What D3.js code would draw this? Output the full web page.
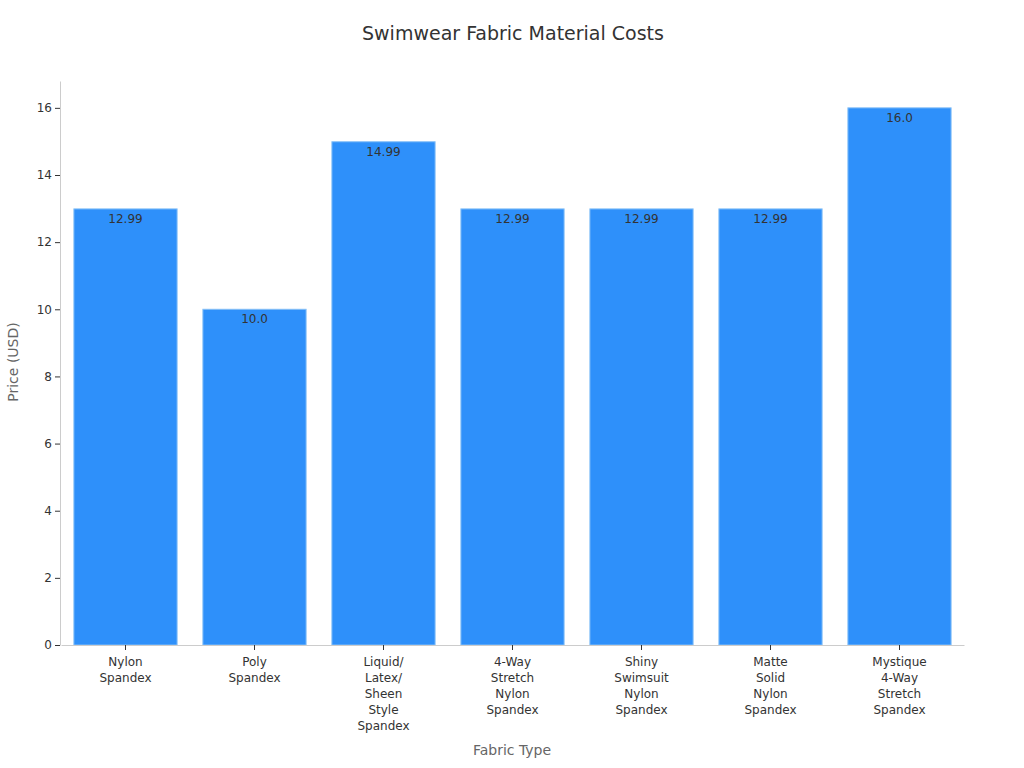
<!DOCTYPE html>
<html>
<head>
<meta charset="utf-8">
<script src="https://cdn.jsdelivr.net/npm/d3@7"></script>
<style>
  body { margin: 0; background: #fff; font-family: "DejaVu Sans", sans-serif; }
</style>
</head>
<body>
<div id="chart"></div>
<script>
const categories = [
  "Nylon Spandex",
  "Poly Spandex",
  "Liquid/ Latex/ Sheen Style Spandex",
  "4-Way Stretch Nylon Spandex",
  "Shiny Swimsuit Nylon Spandex",
  "Matte Solid Nylon Spandex",
  "Mystique 4-Way Stretch Spandex"
];
const prices = [12.99, 10.0, 14.99, 12.99, 12.99, 12.99, 16.0];
const priceLabels = ["12.99", "10.0", "14.99", "12.99", "12.99", "12.99", "16.0"];
const yTicks = [0, 2, 4, 6, 8, 10, 12, 14, 16];

const width = 1024, height = 768;
const margin = { top: 81, right: 61, bottom: 123, left: 60 };

const svg = d3.select("#chart").append("svg")
  .attr("width", width)
  .attr("height", height);

svg.append("text")
  .attr("x", 513).attr("y", 40)
  .attr("text-anchor", "middle")
  .attr("font-size", 19)
  .attr("fill", "#333")
  .text("Swimwear Fabric Material Costs");

const x = d3.scaleBand()
  .domain(categories)
  .range([margin.left + 1, width - margin.right + 1])
  .paddingInner(0.2)
  .paddingOuter(0.1);

const y = d3.scaleLinear()
  .domain([0, 16.8])
  .range([height - margin.bottom, margin.top]);

svg.selectAll("rect.bar")
  .data(prices)
  .enter().append("rect")
  .attr("class", "bar")
  .attr("x", (d, i) => x(categories[i]))
  .attr("y", d => y(d))
  .attr("width", x.bandwidth())
  .attr("height", d => y(0) - y(d))
  .attr("fill", "#2E90FA")
  .attr("stroke", "#84BFF7")
  .attr("stroke-width", 1);

svg.selectAll("text.val")
  .data(prices)
  .enter().append("text")
  .attr("class", "val")
  .attr("x", (d, i) => x(categories[i]) + x.bandwidth() / 2)
  .attr("y", d => y(d) + 14)
  .attr("text-anchor", "middle")
  .attr("font-size", 12)
  .attr("fill", "#333")
  .text((d, i) => priceLabels[i]);

const yAxis = svg.append("g")
  .attr("transform", `translate(${margin.left},0)`)
  .call(d3.axisLeft(y).tickValues(yTicks).tickSize(5).tickSizeOuter(0));
yAxis.select(".domain").attr("stroke", "#ccc");
yAxis.selectAll(".tick line").attr("stroke", "#333");
yAxis.selectAll(".tick text").attr("font-size", 12).attr("fill", "#333")
  .attr("font-family", "DejaVu Sans, sans-serif");

const xAxis = svg.append("g")
  .attr("transform", `translate(0,${height - margin.bottom})`)
  .call(d3.axisBottom(x).tickSize(5).tickSizeOuter(0));
xAxis.select(".domain").attr("stroke", "#ccc");
xAxis.selectAll(".tick line").attr("stroke", "#333");
xAxis.selectAll(".tick text").remove();
xAxis.selectAll(".tick").each(function(d) {
  const t = d3.select(this).append("text")
    .attr("text-anchor", "middle")
    .attr("font-size", 12)
    .attr("fill", "#333")
    .attr("font-family", "DejaVu Sans, sans-serif");
  d.split(" ").forEach((w, i) => {
    t.append("tspan").attr("x", 0).attr("y", 21 + i * 16).text(w);
  });
});

svg.append("text")
  .attr("x", 512)
  .attr("y", 755)
  .attr("text-anchor", "middle")
  .attr("font-size", 14)
  .attr("fill", "#666")
  .text("Fabric Type");

svg.append("text")
  .attr("transform", `translate(18,362) rotate(-90)`)
  .attr("text-anchor", "middle")
  .attr("font-size", 14)
  .attr("fill", "#666")
  .text("Price (USD)");
</script>
</body>
</html>
